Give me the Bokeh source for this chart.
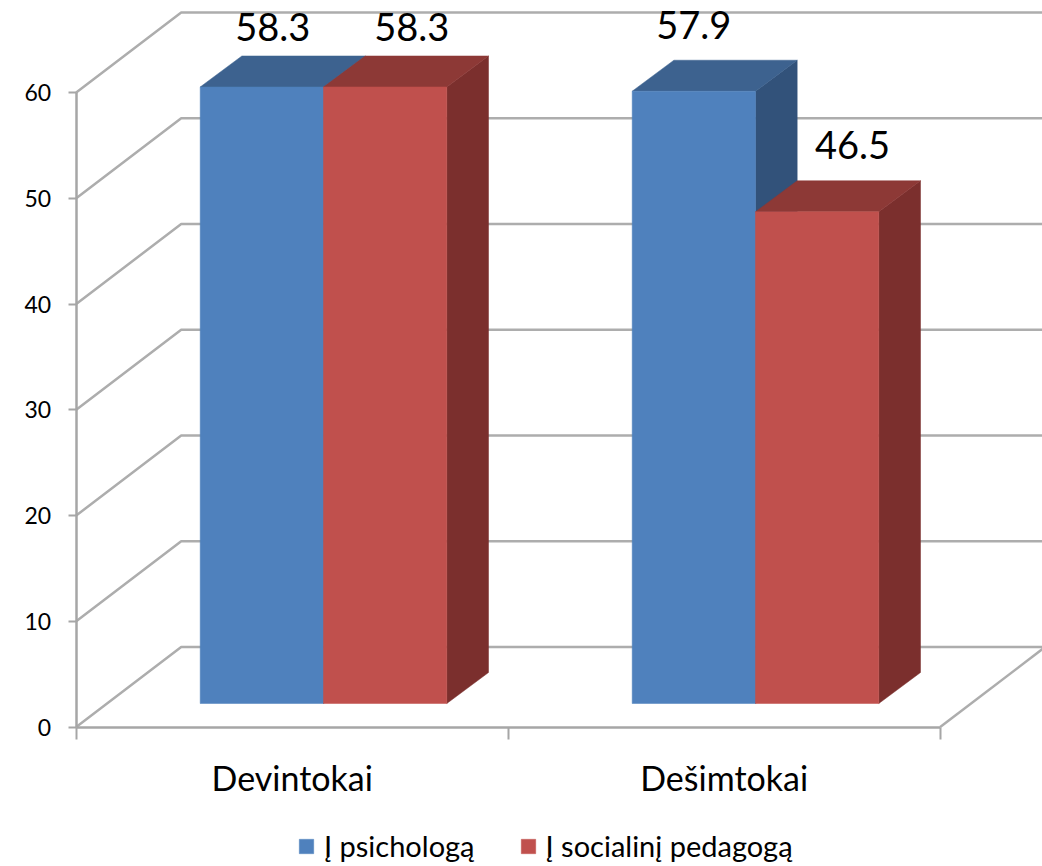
from bokeh.embed import file_html
from bokeh.resources import INLINE
from bokeh.plotting import figure
from bokeh.models import (FixedTicker, Legend, LegendItem, LinearAxis, Range1d)
from bokeh.core.properties import value

categories = ["Devintokai", "Dešimtokai"]
series_names = ["Į psichologą", "Į socialinį pedagogą"]
psichologa = [58.3, 57.9]
socialini = [58.3, 46.5]
y_ticks = [0, 10, 20, 30, 40, 50, 60]

# chart geometry in data units (categories on x, percent on y)
PX_X, PX_Y = 432.0, 10.575
WALL_DX, WALL_DY = 105 / PX_X, 80 / PX_Y
BAR_DX, BAR_DY = 41.7 / PX_X, 31 / PX_Y
BAR_BASE = 23.5 / PX_Y
BAR_LEFT = 124.0 / PX_X
BAR_W = 123.3 / PX_X

# data label anchors (x in categories, y in percent)
label_x = [0.455, 0.7766, 1.4294, 1.797]
label_y = [66.15, 66.15, 66.35, 55.0]
label_text = ["58.3", "58.3", "57.9", "46.5"]

GRID = "#adadad"
AXIS = "#a6a6a6"
FRONT = ["#4f81bd", "#c0504d"]
TOP = ["#3d628f", "#8d3936"]
SIDE = ["#32527a", "#7b2f2d"]

W, H = 1042, 866
p = figure(width=W, height=H, output_backend="svg", toolbar_location=None,
           x_range=Range1d(-75.7 / PX_X, 966.3 / PX_X),
           y_range=Range1d(-139.5 / PX_Y, 726.5 / PX_Y),
           min_border=0, outline_line_color=None)
p.grid.visible = False
p.xaxis.visible = False
p.yaxis.visible = False

# walls: diagonals on the side wall, horizontals on the back wall
p.multi_line(xs=[[0, WALL_DX, 2 + WALL_DX] for _ in y_ticks],
             ys=[[t, t + WALL_DY, t + WALL_DY] for t in y_ticks],
             line_color=GRID, line_width=2.5)
p.line([2, 2 + WALL_DX], [0, WALL_DY], line_color=GRID, line_width=2.5)

# bars
legend_items = []
for s, vals in enumerate([psichologa, socialini]):
    fx0, fx1, fy0, fy1 = [], [], [], []
    top_x, top_y, side_x, side_y = [], [], [], []
    for c, v in enumerate(vals):
        x0 = c + BAR_LEFT + s * BAR_W
        x1 = x0 + BAR_W
        y0 = BAR_BASE
        y1 = v + BAR_BASE
        fx0.append(x0); fx1.append(x1); fy0.append(y0); fy1.append(y1)
        top_x.append([x0, x0 + BAR_DX, x1 + BAR_DX, x1])
        top_y.append([y1, y1 + BAR_DY, y1 + BAR_DY, y1])
        side_x.append([x1, x1 + BAR_DX, x1 + BAR_DX, x1])
        side_y.append([y0, y0 + BAR_DY, y1 + BAR_DY, y1])
    p.patches(side_x, side_y, fill_color=SIDE[s], line_color=SIDE[s], line_width=0.5)
    p.patches(top_x, top_y, fill_color=TOP[s], line_color=TOP[s], line_width=0.5)
    r = p.quad(left=fx0, right=fx1, bottom=fy0, top=fy1,
               fill_color=FRONT[s], line_color=FRONT[s], line_width=0.5)
    legend_items.append(LegendItem(label=series_names[s], renderers=[r]))

# data labels
p.text(x=label_x, y=label_y, text=label_text, text_align="center",
       text_baseline="alphabetic", text_font=value("Lato"),
       text_font_size="38px", text_color="#000000")

# value axis
ya = LinearAxis(ticker=FixedTicker(ticks=y_ticks), fixed_location=0, bounds=(0, 60),
                axis_line_color=AXIS, axis_line_width=2.5,
                major_tick_line_color=AXIS, major_tick_line_width=2,
                major_tick_out=8, major_tick_in=0, minor_tick_line_color=None,
                major_label_text_font="Lato", major_label_text_font_size="23px",
                major_label_text_color="#000000", major_label_standoff=17)
p.add_layout(ya, "left")

# category axis: ticks at the category boundaries
xa = LinearAxis(ticker=FixedTicker(ticks=[0, 1, 2]), fixed_location=0, bounds=(0, 2),
                axis_line_color=AXIS, axis_line_width=2.5,
                major_tick_line_color=AXIS, major_tick_line_width=2,
                major_tick_out=12, major_tick_in=0, minor_tick_line_color=None,
                major_label_overrides={0: "", 1: "", 2: ""})
p.add_layout(xa, "below")

# category names centred between the ticks
xl = LinearAxis(ticker=FixedTicker(ticks=[0.5, 1.5]), fixed_location=0,
                axis_line_color=None, major_tick_line_color=None,
                minor_tick_line_color=None, major_tick_out=0, major_tick_in=0,
                major_label_overrides={0.5: categories[0], 1.5: categories[1]},
                major_label_text_font="Lato", major_label_text_font_size="34px",
                major_label_text_color="#000000", major_label_standoff=30)
p.add_layout(xl, "below")

# legend
leg = Legend(items=legend_items, orientation="horizontal", location=(297, 3),
             border_line_color=None, background_fill_alpha=0, padding=0, margin=0,
             glyph_width=18, glyph_height=18, label_standoff=9, spacing=44,
             label_text_font="Lato", label_text_font_size="29px",
             label_text_color="#000000", label_height=18)
p.add_layout(leg, "center")

open("out.html", "w").write(file_html(p, INLINE))
